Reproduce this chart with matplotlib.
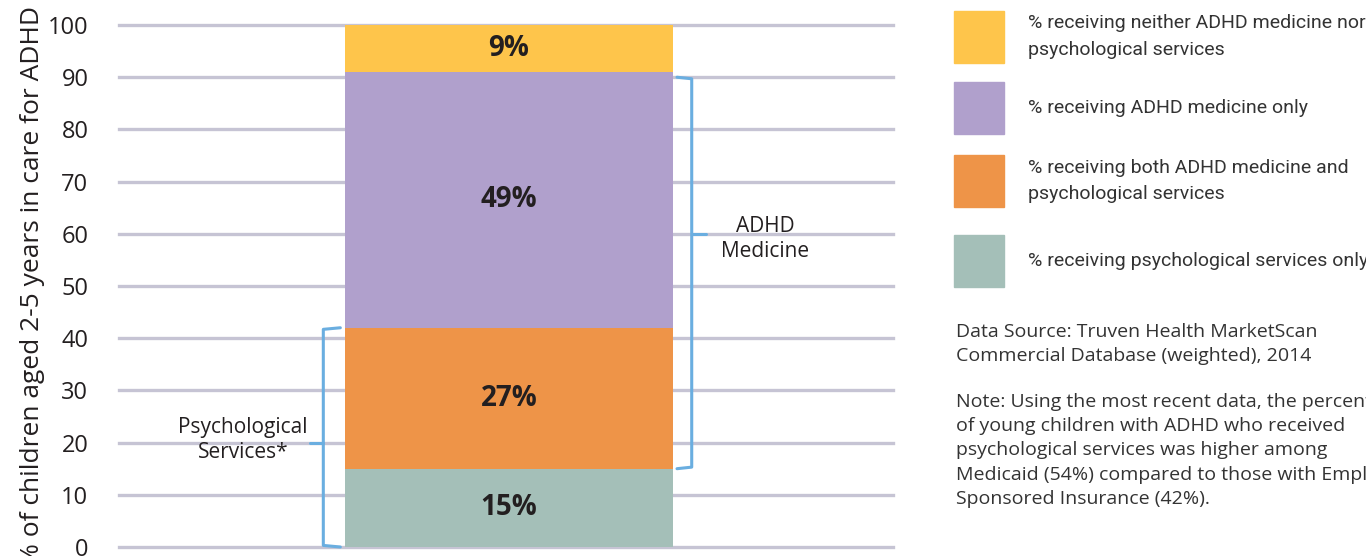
#!/usr/bin/env python3
"""Stacked bar: care received by young children (2-5 years) with ADHD."""

import matplotlib.pyplot as plt
from matplotlib.patches import Rectangle

# data, bottom segment first
segments = [
    "% receiving psychological services only",
    "% receiving both ADHD medicine and\npsychological services",
    "% receiving ADHD medicine only",
    "% receiving neither ADHD medicine nor\npsychological services",
]
values = [15, 27, 49, 9]
labels = ["15%", "27%", "49%", "9%"]
colors = ["#a4bfb8", "#ee9448", "#b0a0cc", "#fec54b"]
yticks = [0, 10, 20, 30, 40, 50, 60, 70, 80, 90, 100]

BASE = ["Open Sans", "DejaVu Sans"]
NARROW = ["Roboto", "DejaVu Sans"]
GRID = "#c6c4d4"
BRACKET = "#6aaee0"
TEXT = "#231f20"

plt.rcParams["font.family"] = BASE

fig = plt.figure(figsize=(13.66, 5.56), dpi=100)
ax = fig.add_axes([0.0871, 0.0162, 0.5666, 0.9388])
ax.set_xlim(0, 1)
ax.set_ylim(0, 100)

for y in yticks:
    ax.axhline(y, color=GRID, lw=2.4, zorder=0, clip_on=False)

bar_x, bar_w = 0.504, 0.424
bottom = 0
for val, lab, col in zip(values, labels, colors):
    ax.bar(bar_x, val, width=bar_w, bottom=bottom, color=col, zorder=2)
    ax.text(bar_x, bottom + val / 2, lab, ha="center", va="center",
            fontsize=20, fontweight="bold", color=TEXT, zorder=3)
    bottom += val


def bracket(x, tip, nub, y0, y1, ymid):
    # vertical spine with short tips at each end and a nub at ymid
    kw = dict(color=BRACKET, lw=2.2, solid_capstyle="round",
              solid_joinstyle="round", zorder=3, clip_on=False)
    ax.plot([tip, x, x, tip], [y0, y0 + 0.3, y1 - 0.3, y1], **kw)
    ax.plot([x, nub], [ymid, ymid], **kw)


psych_top = values[0] + values[1]
med_bottom = values[0]
med_top = values[0] + values[1] + values[2] - 1
bracket(0.264, 0.286, 0.247, 0, psych_top, 20)
bracket(0.740, 0.721, 0.758, med_bottom, med_top, 60)

ax.text(0.160, 20.5, "Psychological\nServices*", ha="center", va="center",
        fontsize=15, color=TEXT, linespacing=1.3)
ax.text(0.835, 59, "ADHD\nMedicine", ha="center", va="center",
        fontsize=15, color=TEXT, linespacing=1.3)

ax.set_yticks(yticks)
ax.set_xticks([])
ax.tick_params(axis="y", length=0, pad=22, labelsize=17, labelcolor=TEXT)
for s in ax.spines.values():
    s.set_visible(False)

fig.text(0.024, 0.99, "% of children aged 2-5 years in care for ADHD",
         rotation=90, ha="center", va="top", fontsize=19, color=TEXT)

# legend, top entry first
leg_y = [0.934, 0.806, 0.674, 0.531]
for seg, col, yy in zip(segments[::-1], colors[::-1], leg_y):
    fig.patches.append(Rectangle((954 / 1366, yy - 0.047), 50 / 1366, 0.094,
                                 transform=fig.transFigure, color=col))
    fig.text(1028 / 1366, yy, seg, ha="left", va="center", fontsize=14,
             color="#333333", family=NARROW, linespacing=1.6)

fig.text(956 / 1366, 0.381,
         "Data Source: Truven Health MarketScan\n"
         "Commercial Database (weighted), 2014",
         ha="left", va="center", fontsize=14, color="#333333",
         linespacing=1.45)
fig.text(956 / 1366, 0.19,
         "Note: Using the most recent data, the percentage\n"
         "of young children with ADHD who received\n"
         "psychological services was higher among\n"
         "Medicaid (54%) compared to those with Employer\n"
         "Sponsored Insurance (42%).",
         ha="left", va="center", fontsize=14, color="#333333",
         linespacing=1.45)

fig.savefig("out.png", dpi=100)
